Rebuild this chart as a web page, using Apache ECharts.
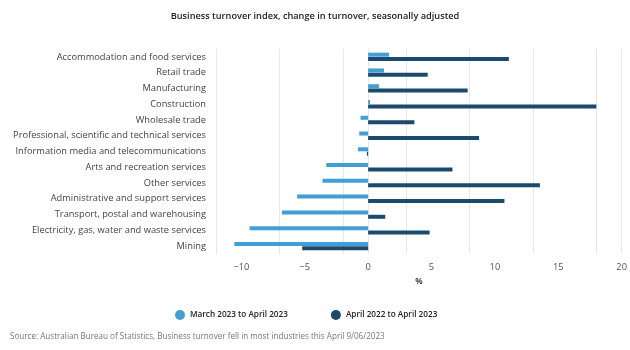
<!DOCTYPE html>
<html>
<head>
<meta charset="utf-8">
<script src="https://cdn.jsdelivr.net/npm/echarts@6/dist/echarts.min.js"></script>
<style>
  html, body { margin: 0; padding: 0; background: #fff; }
  #chart { width: 630px; height: 350px; }
</style>
</head>
<body>
<div id="chart"></div>
<script>
const industries = [
  "Accommodation and food services",
  "Retail trade",
  "Manufacturing",
  "Construction",
  "Wholesale trade",
  "Professional, scientific and technical services",
  "Information media and telecommunications",
  "Arts and recreation services",
  "Other services",
  "Administrative and support services",
  "Transport, postal and warehousing",
  "Electricity, gas, water and waste services",
  "Mining"
];
const monthChange = [1.65, 1.25, 0.85, 0.15, -0.6, -0.7, -0.8, -3.3, -3.6, -5.6, -6.8, -9.35, -10.55];
const yearChange = [11.1, 4.7, 7.85, 18.0, 3.65, 8.75, -0.1, 6.65, 13.55, 10.75, 1.35, 4.85, -5.2];
const seriesNames = ["March 2023 to April 2023", "April 2022 to April 2023"];

const font = "'Open Sans', 'DejaVu Sans', sans-serif";
const chart = echarts.init(document.getElementById("chart"), null, { renderer: "canvas" });

chart.setOption({
  animation: false,
  textStyle: { fontFamily: font },
  title: [
    {
      text: "Business turnover index, change in turnover, seasonally adjusted",
      left: "center",
      top: 7,
      textStyle: { fontSize: 9.2, fontWeight: 600, color: "#222", fontFamily: font }
    },
    {
      text: "Source: Australian Bureau of Statistics, Business turnover fell in most industries this April 9/06/2023",
      left: 5,
      top: 328,
      textStyle: { fontSize: 8.1, fontWeight: "normal", color: "#777", fontFamily: font }
    }
  ],
  legend: {
    top: 305,
    left: 170,
    itemGap: 43,
    icon: "circle",
    itemWidth: 10,
    itemHeight: 10,
    textStyle: { fontSize: 8.2, color: "#222", fontWeight: 600, fontFamily: font },
    data: seriesNames
  },
  grid: { left: 216, right: 7, top: 49, bottom: 96 },
  xAxis: {
    type: "value",
    min: -12,
    max: 20,
    interval: 5,
    name: "%",
    nameLocation: "middle",
    nameGap: 21,
    nameTextStyle: { fontSize: 8.5, fontWeight: 600, color: "#222" },
    axisLine: { show: false },
    axisTick: { show: false },
    axisLabel: {
      fontSize: 9.3,
      color: "#555",
      margin: 9,
      customValues: [-10, -5, 0, 5, 10, 15, 20],
      formatter: v => (v < 0 ? "\u2212" + Math.abs(v) : String(v))
    },
    splitLine: { show: true, lineStyle: { color: "#e8e8e8", width: 1 } }
  },
  yAxis: {
    type: "category",
    data: industries,
    inverse: true,
    axisLine: { show: true, lineStyle: { color: "#e6e9ef", width: 1 } },
    axisTick: { show: false },
    axisLabel: { fontSize: 9.3, color: "#444", margin: 10 }
  },
  series: [
    {
      name: seriesNames[0],
      type: "bar",
      data: monthChange,
      barWidth: 4,
      barGap: "10%",
      itemStyle: { color: "#3f9fd6" }
    },
    {
      name: seriesNames[1],
      type: "bar",
      data: yearChange,
      barWidth: 4,
      barGap: "10%",
      itemStyle: { color: "#1b4a6e" }
    }
  ]
});
</script>
</body>
</html>
